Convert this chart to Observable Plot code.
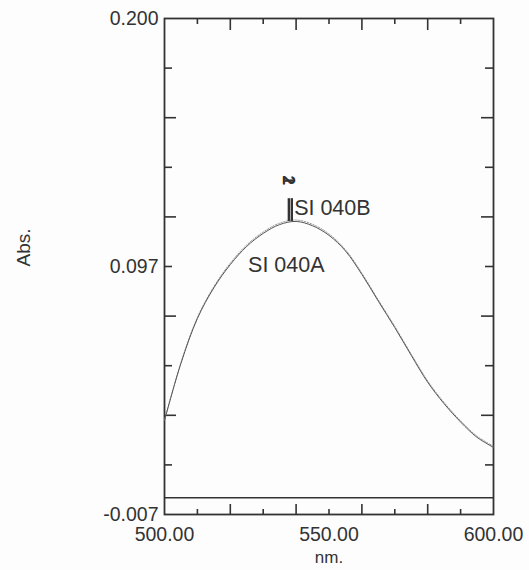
<!DOCTYPE html>
<html>
<head>
<meta charset="utf-8">
<script src="https://cdn.jsdelivr.net/npm/d3@7"></script>
<script src="https://cdn.jsdelivr.net/npm/@observablehq/plot@0.6"></script>
<style>
  html, body { margin: 0; padding: 0; background: #fdfdfd; }
  #chart { width: 529px; height: 570px; }
</style>
</head>
<body>
<div id="chart"></div>
<script>
// Wavelength (nm)
const wavelengths = [500, 505, 510, 515, 520, 525, 530, 535, 540, 545, 550, 555, 560, 565, 570, 575, 580, 585, 590, 595, 600];
// Series SI 040A (solid)
const absA = [0.0322, 0.0561, 0.0748, 0.0876, 0.0973, 0.1049, 0.1103, 0.1140, 0.1153, 0.1135, 0.1095, 0.1030, 0.0932, 0.0820, 0.0710, 0.0594, 0.0482, 0.0392, 0.0316, 0.0252, 0.0210];
// Series SI 040B (dotted)
const absB = [0.0324, 0.0564, 0.0752, 0.0881, 0.0979, 0.1055, 0.1109, 0.1146, 0.1159, 0.1141, 0.1101, 0.1035, 0.0937, 0.0825, 0.0715, 0.0599, 0.0487, 0.0397, 0.0321, 0.0257, 0.0215];

const xDomain = [500, 600];
const yDomain = [-0.007, 0.200];
const xLabelVals = [500, 550, 600];
const xLabelTexts = ["500.00", "550.00", "600.00"];
const xMajorTicks = [520, 540, 560, 580];
const xMinorTicks = [510, 530, 550, 570, 590];
const yLabelVals = [0.200, 0.0965, -0.007];
const yLabelTexts = ["0.200", "0.097", "-0.007"];
const yMajorTicks = [0.1586, 0.1172, 0.0758, 0.0344];
const yMinorTicks = [0.1793, 0.1379, 0.0965, 0.0551, 0.0137];

// Peak markers
const peakMarkerX = [537.8, 538.7];
const peakMarkerTop = 0.1248;
const peakMarkerBottom = 0.1153;
const peakNumbers = ["1", "2"];

// Series labels
const seriesLabels = [
  {text: "SI 040B", x: 539.4, y: 0.1210},
  {text: "SI 040A", x: 525.4, y: 0.0970}
];

const W = 529, H = 570;
const mTop = 18, mBottom = 56, mLeft = 164, mRight = 36;
const frameH = H - mTop - mBottom;
const frameW = W - mLeft - mRight;
const ink = "#333";
const font = "'Liberation Sans', Arial, sans-serif";

const seriesA = wavelengths.map((w, i) => ({w, a: absA[i]}));
const seriesB = wavelengths.map((w, i) => ({w, a: absB[i]}));

const chart = Plot.plot({
  width: W, height: H,
  marginTop: mTop, marginBottom: mBottom, marginLeft: mLeft, marginRight: mRight,
  style: {fontFamily: font, fontSize: "19.5px", color: ink, background: "#fdfdfd"},
  x: {domain: xDomain},
  y: {domain: yDomain},
  marks: [
    // axes labels
    Plot.axisX({ticks: xLabelVals, tickFormat: (d) => xLabelTexts[xLabelVals.indexOf(d)], tickSize: 0, tickPadding: 13, fill: ink, label: null, fontSize: 19.5}),
    Plot.axisY({ticks: yLabelVals, tickFormat: (d) => yLabelTexts[yLabelVals.indexOf(d)], tickSize: 0, tickPadding: 6, fill: ink, label: null, fontSize: 19.5}),
    // inward ticks: top & bottom
    Plot.tickX(xMajorTicks, {x: d => d, insetBottom: frameH - 12, stroke: ink, strokeWidth: 1.6}),
    Plot.tickX(xMinorTicks, {x: d => d, insetBottom: frameH - 6, stroke: ink, strokeWidth: 1.6}),
    Plot.tickX(xMajorTicks, {x: d => d, insetTop: frameH - 10, stroke: ink, strokeWidth: 1.6}),
    Plot.tickX(xMinorTicks, {x: d => d, insetTop: frameH - 5, stroke: ink, strokeWidth: 1.6}),
    // inward ticks: left & right
    Plot.tickY(yMajorTicks, {y: d => d, insetRight: frameW - 12, stroke: ink, strokeWidth: 1.6}),
    Plot.tickY(yMinorTicks, {y: d => d, insetRight: frameW - 8, stroke: ink, strokeWidth: 1.6}),
    Plot.tickY(yMajorTicks, {y: d => d, insetLeft: frameW - 12, stroke: ink, strokeWidth: 1.6}),
    Plot.tickY(yMinorTicks, {y: d => d, insetLeft: frameW - 8, stroke: ink, strokeWidth: 1.6}),
    // baseline
    Plot.ruleY([0], {stroke: ink, strokeWidth: 1.4}),
    // frame
    Plot.frame({stroke: ink, strokeWidth: 1.8}),
    // spectra
    Plot.line(seriesB, {x: "w", y: "a", stroke: "#999", strokeWidth: 1, strokeDasharray: "1.5,1.5", curve: "catmull-rom"}),
    Plot.line(seriesA, {x: "w", y: "a", stroke: "#555", strokeWidth: 1, curve: "catmull-rom"}),
    // peak markers
    Plot.ruleX(peakMarkerX, {x: d => d, y1: peakMarkerTop, y2: peakMarkerBottom, stroke: "#333", strokeWidth: 2.4}),
    Plot.text(peakNumbers, {x: 537.6, y: 0.1325, text: d => d, rotate: 90, fontSize: 17, fontWeight: "bold", fill: ink}),
    // series labels
    Plot.text(seriesLabels, {x: "x", y: "y", text: "text", textAnchor: "start", fontSize: 21.5, fill: ink}),
    // axis titles
    Plot.text(["nm."], {frameAnchor: "bottom", dy: 48, text: d => d, fontSize: 17, fill: ink}),
    Plot.text(["Abs."], {frameAnchor: "left", dx: -141, text: d => d, rotate: -90, fontSize: 19, fill: ink})
  ]
});
document.getElementById("chart").appendChild(chart);
</script>
</body>
</html>
